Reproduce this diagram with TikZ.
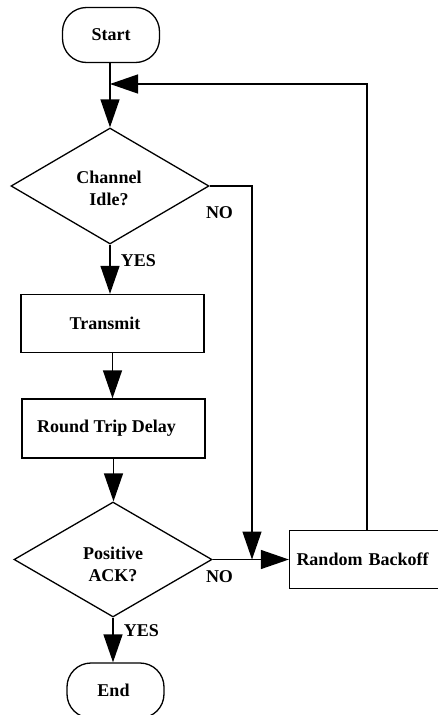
\documentclass[tikz,border=0pt]{standalone}
\usepackage{fontspec}
\setmainfont{Liberation Serif}
\usetikzlibrary{shapes.geometric,arrows.meta}
\begin{document}
\begin{tikzpicture}[x=1pt,y=-1pt,
  font=\fontsize{18}{22}\selectfont\bfseries,
  line width=1.3pt,
  terminal/.style={draw,rectangle,rounded corners=24pt,minimum width=97pt,minimum height=55pt,inner sep=0pt},
  process/.style={draw,rectangle,minimum width=183pt,minimum height=58pt,inner sep=0pt},
  decision/.style={draw,diamond,minimum width=198pt,minimum height=116pt,inner sep=0pt},
  flow/.style={-{Triangle[length=28pt,width=19pt]}},
  lbl/.style={inner sep=0pt,align=center}]
\useasboundingbox (0,0) rectangle (437,715);

% blocks
\node[terminal] (start) at (111,35) {Start};
\node[decision] (idle) at (110,186) {};
\node[lbl] (idlet) at (109,188) {Channel\\Idle?};
\node[process] (tx) at (112.5,323.5) {Transmit\hspace*{15pt}};
\node[process,minimum height=59pt] (rtd) at (113.5,428.5) {Round Trip Delay\hspace*{14pt}};
\node[decision,minimum height=115pt] (ack) at (113,559.5) {};
\node[lbl] (ackt) at (113,564) {Positive\\ACK?};
\node[draw,rectangle,text width=141pt,align=left,inner sep=7pt,minimum height=58pt] (rb) at (367,559.5) {Random Backoff};
\node[terminal] (fin) at (115.5,690.5) {End\hspace*{4pt}};

% junction points
\coordinate (merge) at (110,84);
\coordinate (turn) at (367,84);
\coordinate (noc) at (252,186);
\coordinate (join) at (252,559.5);

% main flow
\draw (start.south -| merge) -- (merge);
\draw[flow] (merge) -- (idle.north);
\draw[flow] (idle.south) -- (idle.south |- tx.north);
\draw[flow] (tx.south) -- (tx.south |- rtd.north);
\draw[flow] (rtd.south) -- (rtd.south |- ack.north);
\draw[flow] (ack.south) -- (ack.south |- fin.north);

% retry paths
\draw[flow] (idle.east) -- (noc) -- (join);
\draw[flow] (ack.east) -- (ack.east -| rb.west);
\draw[flow] (rb.north) -- (turn) -- (merge);

% branch labels
\node[lbl] (no1) at (219.5,213) {NO};
\node[lbl] (yes1) at (138.5,261) {YES};
\node[lbl] (no2) at (219.5,577) {NO};
\node[lbl] (yes2) at (141.5,631) {YES};
\end{tikzpicture}
\end{document}
